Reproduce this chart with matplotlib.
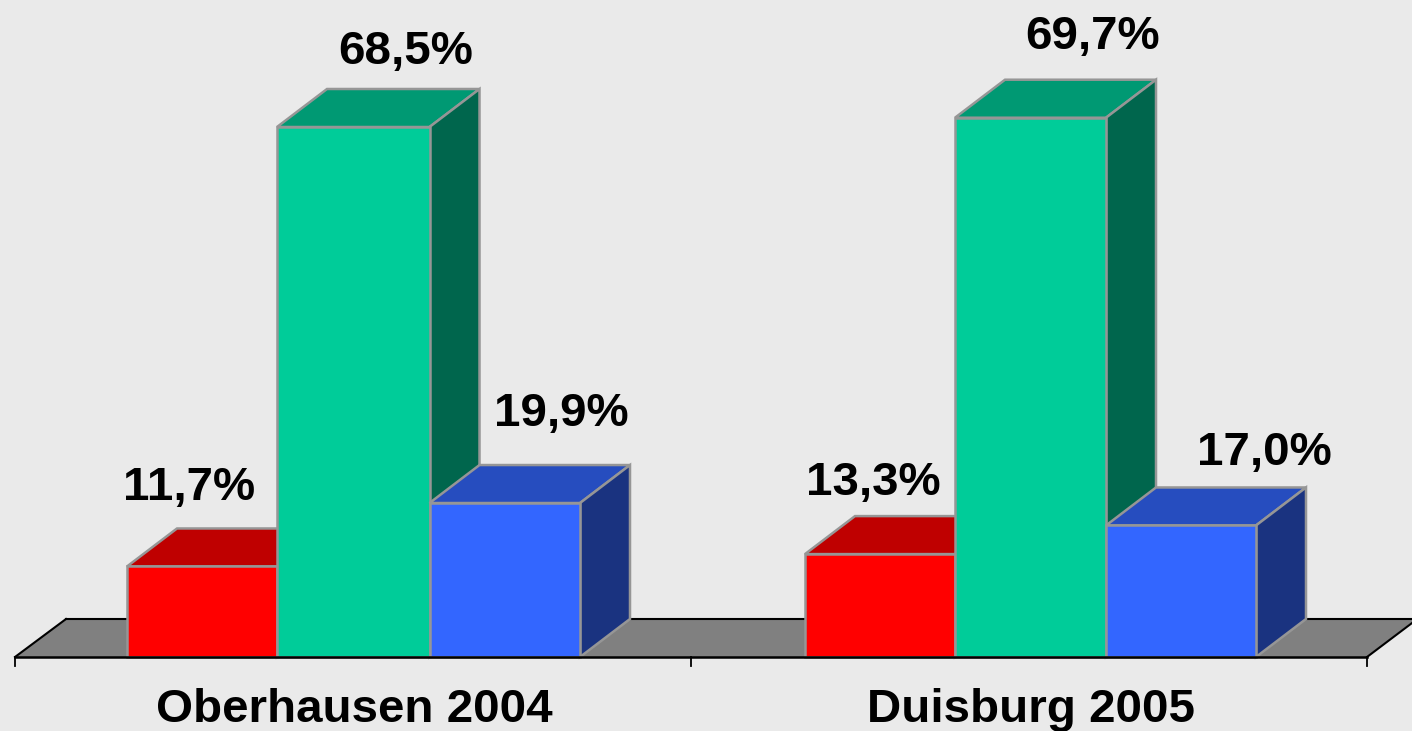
import matplotlib
matplotlib.use("Agg")
import matplotlib.pyplot as plt
from matplotlib.patches import Polygon

categories = ["Oberhausen 2004", "Duisburg 2005"]
red_values = [11.7, 13.3]
green_values = [68.5, 69.7]
blue_values = [19.9, 17.0]
red_labels = ["11,7%", "13,3%"]
green_labels = ["68,5%", "69,7%"]
blue_labels = ["19,9%", "17,0%"]

plt.rcParams['font.family'] = ['Liberation Sans', 'DejaVu Sans']
BG = "#EAEAEA"
W, H = 1412, 731
fig = plt.figure(figsize=(W/100, H/100), dpi=100, facecolor=BG)
ax = fig.add_axes([0, 0, 1, 1])
ax.set_facecolor(BG)
ax.set_xlim(0, W)
ax.set_ylim(H, 0)
ax.axis("off")

y0 = 657
scale = (657 - 127) / 68.5
dx, dy = 50, 38
edge = "#969696"
edge_lw = 1.8

# floor
ax.add_patch(Polygon([(15, y0), (66, 619), (1412, 619), (1412, 622), (1367, y0)],
                     closed=True, fc="#808080", ec="none", zorder=1))
ax.plot([66, 1412], [619, 619], color="black", lw=1.5, zorder=2)
ax.plot([15, 66], [y0, 619], color="black", lw=1.5, zorder=2)
ax.plot([1367, 1412], [y0, 623], color="black", lw=1.5, zorder=2)
ax.plot([15, 1367], [y0, y0], color="black", lw=1.8, zorder=9)
for x in (15, 691, 1367):
    ax.plot([x, x], [y0, y0 + 9], color="black", lw=1.3, zorder=9)


def bar3d(x0, x1, value, front, top, side, z):
    yt = y0 - value * scale
    ax.add_patch(Polygon([(x0, yt), (x0 + dx, yt - dy), (x1 + dx, yt - dy), (x1, yt)],
                         closed=True, fc=top, ec=edge, lw=edge_lw, zorder=z))
    ax.add_patch(Polygon([(x1, yt), (x1 + dx, yt - dy), (x1 + dx, y0 - dy), (x1, y0)],
                         closed=True, fc=side, ec=edge, lw=edge_lw, zorder=z))
    ax.add_patch(Polygon([(x0, yt), (x1, yt), (x1, y0), (x0, y0)],
                         closed=True, fc=front, ec=edge, lw=edge_lw, zorder=z + 0.1))


groups = [(127, 277, 429.5, 580), (805, 955, 1106, 1256)]
for i, (a, b, c, d) in enumerate(groups):
    bar3d(a, b, red_values[i], "#FF0000", "#BF0000", "#800000", 3)
    bar3d(b, c, green_values[i], "#00CC99", "#009973", "#00664D", 4)
    bar3d(c, d, blue_values[i], "#3366FF", "#264DBF", "#1A3380", 5)

label_centers = [(189, 406, 561), (873, 1093, 1264)]
label_ys = [(488, 52, 414), (483, 37, 453)]
for i in range(2):
    texts = (red_labels[i], green_labels[i], blue_labels[i])
    for t, x, y in zip(texts, label_centers[i], label_ys[i]):
        ax.text(x, y, t, ha="center", va="center", fontsize=34.2,
                fontweight="bold", color="black", zorder=10)

for cat, x in zip(categories, (354, 1031)):
    ax.text(x, 710, cat, ha="center", va="center", fontsize=34.2,
            fontweight="bold", color="black", zorder=10)

fig.savefig("out.png", dpi=100, facecolor=BG)
